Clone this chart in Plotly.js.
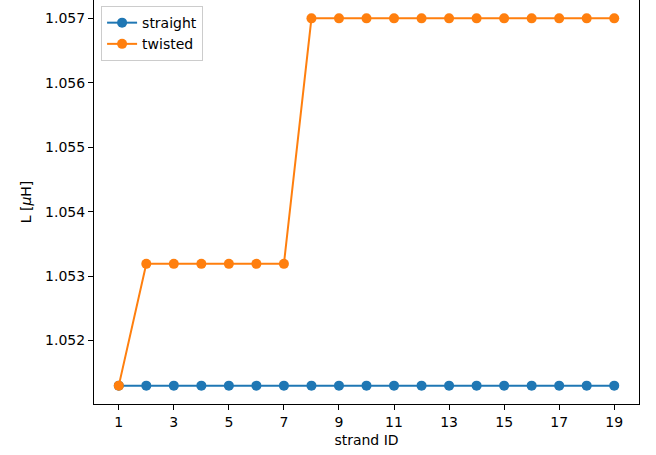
<!DOCTYPE html>
<html><head><meta charset="utf-8">
<script src="https://cdn.plot.ly/plotly-3.0.1.min.js"></script>
<style>body{margin:0;padding:0;background:#fff}#chart{width:656px;height:455px}</style>
</head><body><div id="chart"></div>
<script>
const strandIds = [1,2,3,4,5,6,7,8,9,10,11,12,13,14,15,16,17,18,19];
const straight = [1.0513,1.0513,1.0513,1.0513,1.0513,1.0513,1.0513,1.0513,1.0513,1.0513,1.0513,1.0513,1.0513,1.0513,1.0513,1.0513,1.0513,1.0513,1.0513];
const twisted = [1.0513,1.05319,1.05319,1.05319,1.05319,1.05319,1.05319,1.057,1.057,1.057,1.057,1.057,1.057,1.057,1.057,1.057,1.057,1.057,1.057];
const xTicks = [1,3,5,7,9,11,13,15,17,19];
const yTicks = [1.052,1.053,1.054,1.055,1.056,1.057];

const font = {family:'DejaVu Sans', size:14, color:'#000'};
const traces = [
  {x:strandIds, y:straight, name:'straight', mode:'lines+markers', line:{color:'#1f77b4', width:2}, marker:{color:'#1f77b4', size:10}},
  {x:strandIds, y:twisted, name:'twisted', mode:'lines+markers', line:{color:'#ff7f0e', width:2}, marker:{color:'#ff7f0e', size:10}}
];
const axisCommon = {showgrid:false, zeroline:false, showline:true, mirror:true, linecolor:'#000', linewidth:1,
  ticks:'outside', ticklen:5, tickwidth:1, tickcolor:'#000', tickfont:font};
const layout = {
  width:656, height:455,
  margin:{l:94, r:17, t:0, b:51},
  paper_bgcolor:'#fff', plot_bgcolor:'#fff',
  font:font,
  showlegend:true,
  legend:{x:0.013, y:0.985, xanchor:'left', yanchor:'top', bgcolor:'rgba(255,255,255,0.8)', bordercolor:'#ccc', borderwidth:1, font:font, tracegroupgap:0},
  xaxis:Object.assign({}, axisCommon, {range:[0.1,19.9], tickvals:xTicks, ticktext:xTicks.map(String),
    title:{text:'strand ID', font:font, standoff:6}}),
  yaxis:Object.assign({}, axisCommon, {range:[1.051015,1.057285], tickvals:yTicks, ticktext:yTicks.map(v=>v.toFixed(3)),
    title:{text:'L [<i>μ</i>H]', font:font, standoff:10}})
};
Plotly.newPlot('chart', traces, layout, {displayModeBar:false, staticPlot:true});
</script></body></html>
